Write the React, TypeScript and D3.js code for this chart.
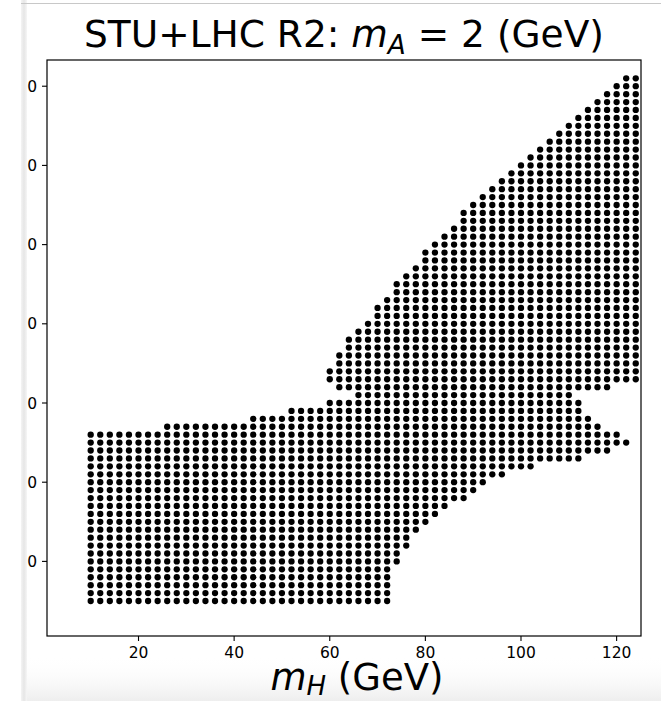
import React from "react";
import * as d3 from "d3";

// Scan grid: m_H columns (GeV) and the allowed row ranges (inclusive) in each column.
const mHColumns = [
  10, 12, 14, 16, 18, 20, 22, 24, 26, 28, 30, 32, 34, 36, 38, 40, 42, 44, 46, 48,
  50, 52, 54, 56, 58, 60, 62, 64, 66, 68, 70, 72, 74, 76, 78, 80, 82, 84, 86, 88,
  90, 92, 94, 96, 98, 100, 102, 104, 106, 108, 110, 112, 114, 116, 118, 120, 122, 124,
];

const allowedRuns: [number, number][][] = [
  [[0, 21]], [[0, 21]], [[0, 21]], [[0, 21]], [[0, 21]], [[0, 21]], [[0, 21]], [[0, 21]],
  [[0, 22]], [[0, 22]], [[0, 22]], [[0, 22]], [[0, 22]], [[0, 22]], [[0, 22]], [[0, 22]], [[0, 22]],
  [[0, 23]], [[0, 23]], [[0, 23]], [[0, 23]],
  [[0, 24]], [[0, 24]], [[0, 24]], [[0, 24]],
  [[0, 25], [28, 29]],
  [[0, 25], [27, 31]],
  [[0, 25], [27, 33]],
  [[0, 34]],
  [[0, 35]],
  [[0, 37]],
  [[0, 38]],
  [[5, 40]],
  [[7, 41]],
  [[9, 42]],
  [[10, 44]],
  [[11, 45]],
  [[12, 46]],
  [[13, 47]],
  [[13, 49]],
  [[14, 50]],
  [[15, 51]],
  [[16, 52]],
  [[16, 53]],
  [[17, 54]],
  [[17, 55]],
  [[17, 56]],
  [[18, 57]],
  [[18, 58]],
  [[18, 59]],
  [[18, 60]],
  [[18, 25], [27, 61]],
  [[19, 23], [27, 62]],
  [[19, 22], [27, 63]],
  [[19, 21], [27, 64]],
  [[20, 21], [28, 65]],
  [[20, 20], [28, 66]],
  [[28, 66]],
];

const xTicks = [20, 40, 60, 80, 100, 120];
const yTicks = [5, 15, 25, 35, 45, 55, 65];
const yTickLabels = ["0", "0", "0", "0", "0", "0", "0"];

const W = 661;
const H = 701;
const plot = { left: 47, right: 641, top: 60, bottom: 636 };

export default function App() {
  const x = d3.scaleLinear().domain([0.86, 125.1]).range([plot.left, plot.right]);
  const y = d3.scaleLinear().domain([-4.42, 68.31]).range([plot.bottom, plot.top]);

  const points: { mH: number; row: number }[] = [];
  mHColumns.forEach((m, i) => {
    allowedRuns[i].forEach(([lo, hi]) => {
      for (let r = lo; r <= hi; r++) points.push({ mH: m, row: r });
    });
  });

  const font = "DejaVu Sans, sans-serif";

  return (
    <svg
      width={W}
      height={H}
      viewBox={`0 0 ${W} ${H}`}
      style={{ position: "absolute", left: 0, top: 0, background: "#fff" }}
    >
      <defs>
        <linearGradient id="edgeShade" x1="0" x2="1" y1="0" y2="0">
          <stop offset="0" stopColor="#f4f4f4" />
          <stop offset="0.5" stopColor="#e6e6e6" />
          <stop offset="1" stopColor="#f6f6f6" />
        </linearGradient>
        <linearGradient id="footShade" x1="0" x2="0" y1="0" y2="1">
          <stop offset="0" stopColor="#ffffff" stopOpacity="0" />
          <stop offset="1" stopColor="#eeeeee" />
        </linearGradient>
      </defs>
      <rect x={0} y={0} width={W} height={H} fill="#fff" />
      <rect x={21} y={0} width={6} height={H} fill="url(#edgeShade)" />
      <rect x={21} y={3} width={W - 21} height={1} fill="#c8c8c8" />
      <rect x={27} y={655} width={W - 27} height={H - 655} fill="url(#footShade)" />

      {/* title */}
      <text
        x={(plot.left + plot.right) / 2}
        y={47}
        textAnchor="middle"
        fontFamily={font}
        fontSize={37.5}
        fill="#000"
      >
        <tspan>STU+LHC R2: </tspan>
        <tspan fontStyle="italic">m</tspan>
        <tspan fontStyle="italic" fontSize={26.3} dy={7}>A</tspan>
        <tspan dy={-7}> = 2 (GeV)</tspan>
      </text>

      {/* scan points */}
      <g>
        {points.map((p, i) => (
          <circle key={i} cx={x(p.mH)} cy={y(p.row)} r={3.15} fill="#000" />
        ))}
      </g>

      {/* frame */}
      <rect
        x={plot.left}
        y={plot.top}
        width={plot.right - plot.left}
        height={plot.bottom - plot.top}
        fill="none"
        stroke="#000"
        strokeWidth={1.2}
      />

      {/* x axis */}
      <g>
        {xTicks.map((t) => (
          <g key={t} transform={`translate(${x(t)},${plot.bottom})`}>
            <line y1={0} y2={5} stroke="#000" strokeWidth={1.1} />
            <text y={22} textAnchor="middle" fontFamily={font} fontSize={15.5} fill="#000">
              {t}
            </text>
          </g>
        ))}
      </g>

      {/* y axis */}
      <g>
        {yTicks.map((t, i) => (
          <g key={t} transform={`translate(${plot.left},${y(t)})`}>
            <line x1={0} x2={-5} stroke="#000" strokeWidth={1.1} />
            <text x={-10} dy="0.36em" textAnchor="end" fontFamily={font} fontSize={15.5} fill="#000">
              {yTickLabels[i]}
            </text>
          </g>
        ))}
      </g>

      {/* x label */}
      <text
        x={357}
        y={690}
        textAnchor="middle"
        fontFamily={font}
        fontSize={37}
        fill="#000"
      >
        <tspan fontStyle="italic">m</tspan>
        <tspan fontStyle="italic" fontSize={26} dy={5}>H</tspan>
        <tspan dy={-5}> (GeV)</tspan>
      </text>
    </svg>
  );
}
